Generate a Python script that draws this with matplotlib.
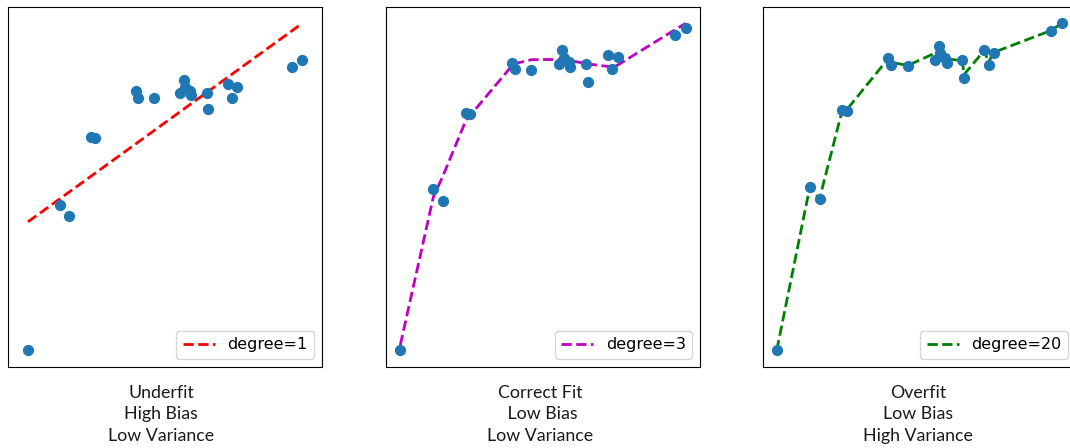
import matplotlib
matplotlib.use("Agg")
import matplotlib.pyplot as plt

# shared sample points
x = [0.0, 0.116, 0.150, 0.230, 0.245, 0.392, 0.402, 0.459, 0.556, 0.568,
     0.572, 0.591, 0.596, 0.651, 0.657, 0.728, 0.743, 0.761, 0.962, 1.0]
y = [0.0, 0.500, 0.463, 0.736, 0.732, 0.893, 0.872, 0.870, 0.888, 0.932,
     0.908, 0.895, 0.879, 0.888, 0.834, 0.917, 0.872, 0.910, 0.978, 1.0]

# fitted curves
fit1_x = [0.0, 1.0]
fit1_y = [0.443, 1.128]
fit3_y = [0.016, 0.476, 0.542, 0.714, 0.729, 0.884, 0.890, 0.902, 0.903, 0.903,
          0.902, 0.900, 0.899, 0.890, 0.889, 0.881, 0.879, 0.885, 0.995, 1.015]
fit20_y = [0.0, 0.499, 0.463, 0.735, 0.735, 0.893, 0.881, 0.871, 0.909, 0.917,
           0.909, 0.894, 0.891, 0.886, 0.843, 0.917, 0.881, 0.911, 0.978, 1.0]

captions = ["Underfit\nHigh Bias\nLow Variance",
            "Correct Fit\n Low Bias\nLow Variance",
            "Overfit\nLow Bias\nHigh Variance"]

W, H = 1070, 448
fig = plt.figure(figsize=(W / 100, H / 100), dpi=100)


def add_ax(left, right, top=7, bottom=366.5):
    return fig.add_axes([left / W, 1 - bottom / H, (right - left) / W, (bottom - top) / H])


ax1 = add_ax(8, 322)
ax2 = add_ax(386, 700)
ax3 = add_ax(762.5, 1076)

ax1.scatter(x, y, s=50, color="#1f77b4", zorder=3)
ax1.plot(fit1_x, fit1_y, "r--", lw=2, label="degree=1")
ax1.set_xlim(-0.073, 1.072)

ax2.scatter(x, y, s=50, color="#1f77b4", zorder=3)
ax2.plot(x, fit3_y, "m--", lw=2, label="degree=3")

ax3.scatter(x, y, s=50, color="#1f77b4", zorder=3)
ax3.plot(x, fit20_y, "g--", lw=2, label="degree=20")

for ax in (ax1, ax2, ax3):
    ax.set_xticks([])
    ax.set_yticks([])
    ax.legend(loc="lower right", fontsize=11.5)

cap_x = [161, 540, 918]
for cx, text in zip(cap_x, captions):
    fig.text(cx / W, 1 - 385 / H, text, ha="center", va="top", multialignment="center",
             fontsize=12.8, family=["Lato", "DejaVu Sans"], linespacing=1.42, color="#1a1a1a")

fig.savefig("out.png", dpi=100)
